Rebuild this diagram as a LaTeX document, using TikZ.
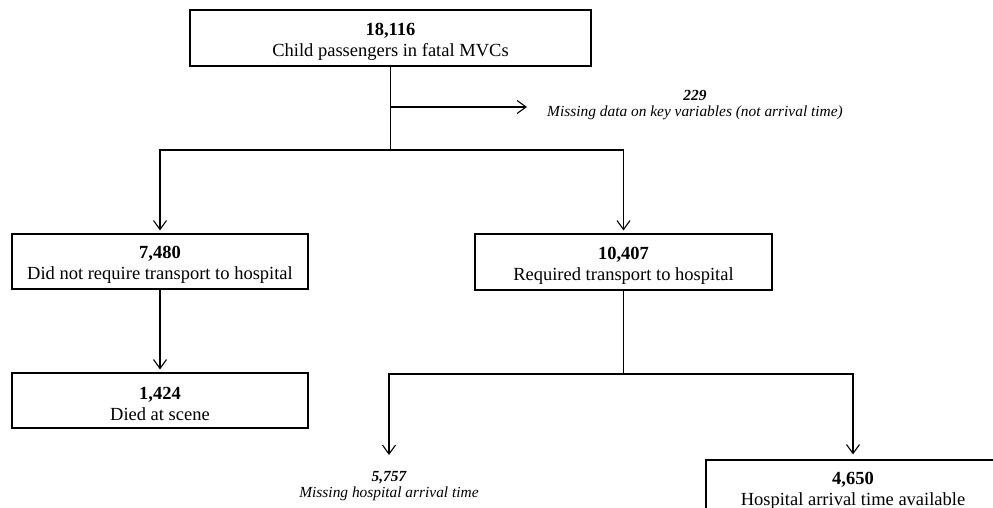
\documentclass[tikz,border=0pt]{standalone}
\usepackage{fontspec}
\setmainfont{Liberation Serif}
\usetikzlibrary{arrows.meta}
\newcommand{\boxstrut}{\rule{0pt}{19pt}}

\begin{document}
\begin{tikzpicture}[x=1pt,y=-1pt,
        box/.style={draw, line width=1.1pt, align=center, inner sep=0pt,
            minimum width=296pt, minimum height=55pt, font=\fontsize{18.5}{21}\selectfont},
        note/.style={align=center, font=\fontsize{15.4}{16.5}\selectfont\itshape},
        arr/.style={-{Straight Barb[length=9pt,width=13pt]}, line width=1.1pt}]
            \useasboundingbox (0,0) rectangle (993,508);
            \node[box, minimum width=401pt, minimum height=56pt] (total) at (390.5,38) {\boxstrut\textbf{18,116}\\Child passengers in fatal MVCs};
            \node[note] (missing) at (695,105) {\textbf{229}\\Missing data on key variables (not arrival time)};
            \node[box] (notrans) at (160,261.5) {\boxstrut\textbf{7,480}\\Did not require transport to hospital};
            \node[box] (died) at (160,400.5) {\boxstrut\textbf{1,424}\\Died at scene};
            \node[box, minimum width=297pt, minimum height=56pt] (trans) at (623.5,262) {\boxstrut\textbf{10,407}\\Required transport to hospital};
            \node[note] (noarrival) at (389,486) {\textbf{5,757}\\Missing hospital arrival time};
            \node[box, minimum width=294pt] (arrival) at (853,487.5) {\boxstrut\textbf{4,650}\\Hospital arrival time available};
            % branch points
            \coordinate (split1) at (390.5,150);
            \coordinate (split2) at (623.5,374);
            \coordinate (missingend) at (527,107);
            \coordinate (noarrivalend) at (389,455);
            \draw[line width=1.1pt] (total.south) -- (split1);
            \draw[arr] (total.south |- missingend) -- (missingend);
            \draw[arr, shorten >=3pt] (split1) -| (notrans.north);
            \draw[arr, shorten >=3pt] (split1) -| (trans.north);
            \draw[arr, shorten >=3pt] (notrans.south) -- (died.north);
            \draw[line width=1.1pt] (trans.south) -- (split2);
            \draw[arr] (split2) -| (noarrivalend);
            \draw[arr, shorten >=5pt] (split2) -| (arrival.north);
        \end{tikzpicture}
\end{document}
